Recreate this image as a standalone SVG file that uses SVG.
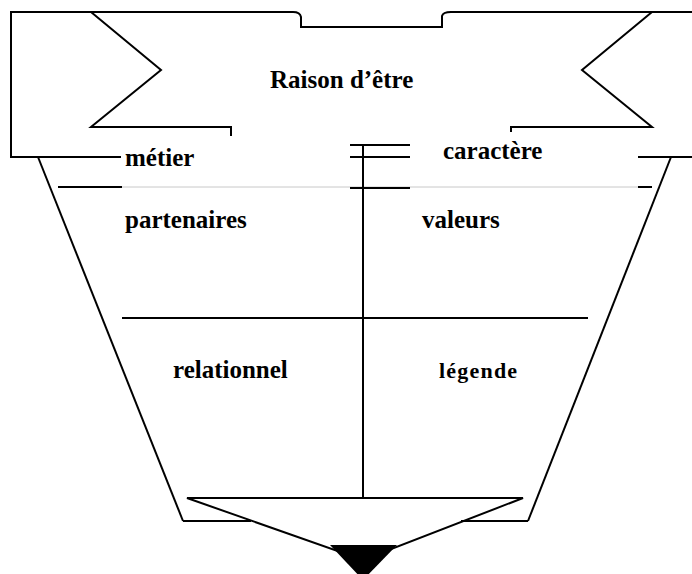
<svg xmlns="http://www.w3.org/2000/svg" width="692" height="574" viewBox="0 0 692 574">
  <style>
    .ln { fill: none; stroke: #000; stroke-width: 2; stroke-linejoin: miter; }
    .thin { fill: none; stroke: #c8c8c8; stroke-width: 1; }
    .lbl { font-family: 'Liberation Serif', 'Times New Roman', Times, serif; font-weight: bold; font-size: 25px; fill: #000; }
    .small { font-size: 22px; letter-spacing: 1.2px; }
  </style>
  <rect width="692" height="574" fill="#fff"/>
  <g id="connectors">
    <line class="thin" x1="122" y1="187" x2="638" y2="187"/>
  </g>
  <g id="raison">
    <path class="ln" d="M692,12 H451 Q443,12 442,16 V27 H301 V17 Q300,12 293,12 H11 V157 H121"/>
    <polyline class="ln" points="91,12 161,70 91,127 231,127 231,136"/>
    <polyline class="ln" points="652,12 582,70 652,127 511,127 511,132"/>
    <text class="lbl" font-family="Liberation Serif, serif" x="270" y="88">Raison d’être</text>
  </g>
  <g id="cuve">
    <line class="ln" x1="38" y1="157" x2="183" y2="521"/>
    <line class="ln" x1="183" y1="521" x2="251" y2="521"/>
    <line class="ln" x1="58" y1="187" x2="122" y2="187"/>
    <line class="ln" x1="638" y1="157" x2="692" y2="157"/>
    <line class="ln" x1="671" y1="157" x2="528" y2="521"/>
    <line class="ln" x1="528" y1="521" x2="461" y2="521"/>
    <line class="ln" x1="638" y1="187" x2="652" y2="187"/>
    <line class="ln" x1="122" y1="318" x2="588" y2="318"/>
  </g>
  <g id="axe">
    <line class="ln" x1="363" y1="145" x2="363" y2="498"/>
    <line class="ln" x1="350" y1="145" x2="410" y2="145"/>
    <line class="ln" x1="350" y1="157" x2="410" y2="157"/>
    <line class="ln" x1="350" y1="188" x2="410" y2="188"/>
  </g>
  <g id="pointe">
    <polygon class="ln" points="187,498 523,498 363,560"/>
    <polygon points="330,545 397,545 363,580" fill="#000"/>
  </g>
  <g id="metier"><text class="lbl" x="125" y="166">métier</text></g>
  <g id="caractere"><text class="lbl" x="443" y="159">caractère</text></g>
  <g id="partenaires"><text class="lbl" x="125" y="228">partenaires</text></g>
  <g id="valeurs"><text class="lbl" x="422" y="228">valeurs</text></g>
  <g id="relationnel"><text class="lbl" x="173" y="378">relationnel</text></g>
  <g id="legende"><text class="lbl small" x="439" y="378">légende</text></g>
</svg>
